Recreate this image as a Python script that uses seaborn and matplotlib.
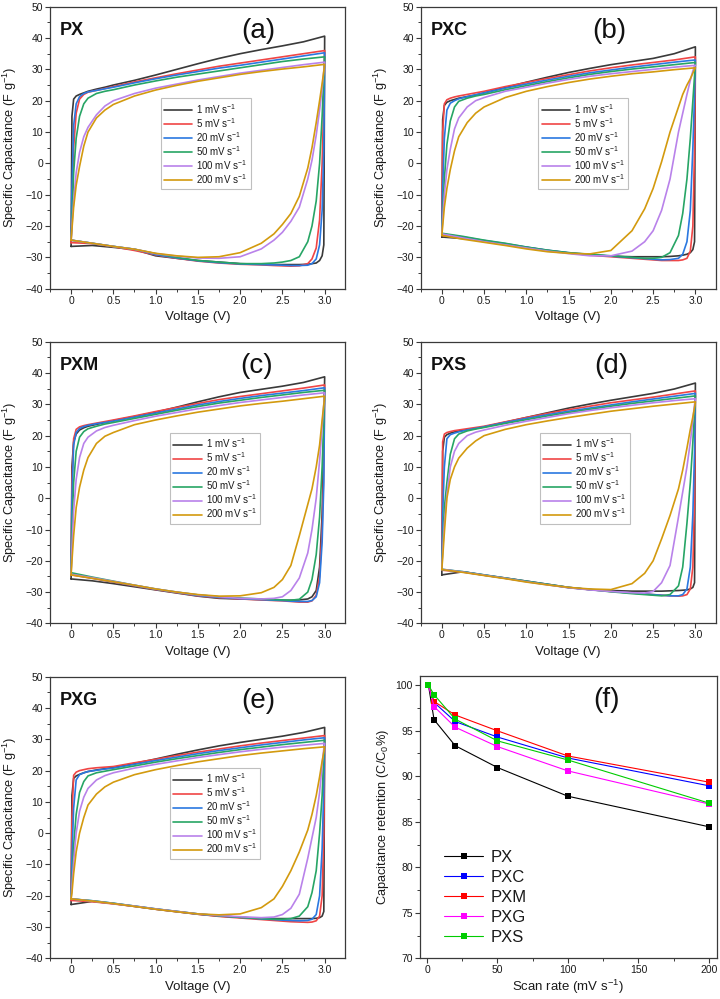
import seaborn as sns
import matplotlib.pyplot as plt
import matplotlib.ticker as mticker
import pandas as pd

# scan rates used in the CV panels
RATES = ["1", "5", "20", "50", "100", "200"]
CV_COLORS = ['#3a3a3a', '#f04545', '#2a78e0', '#27a565', '#b982ea', '#d39a0e']

# voltage grid: forward sweep (0 -> 3 V) and reverse sweep (3 -> 0 V)
V_UP = [0.0, 0.01, 0.03, 0.06, 0.1, 0.15, 0.2, 0.3, 0.4, 0.5, 0.75, 1.0, 1.25, 1.5, 1.75, 2.0, 2.25, 2.5, 2.75, 3.0]
V_DN = [3.0, 2.99, 2.97, 2.94, 2.9, 2.85, 2.8, 2.7, 2.6, 2.5, 2.4, 2.25, 2.0, 1.75, 1.5, 1.25, 1.0, 0.75, 0.5, 0.25, 0.0]

# specific capacitance (F/g), one row per scan rate
PX_UP = [
    [-26.5, 15.0, 20.5, 21.5, 22.0, 22.5, 23.0, 23.7, 24.3, 25.0, 26.5, 28.2, 30.0, 31.8, 33.5, 35.0, 36.3, 37.5, 38.8, 40.6],
    [-25.3, -15.0, 5.0, 16.0, 20.5, 22.0, 22.7, 23.3, 23.9, 24.5, 26.0, 27.3, 28.6, 29.8, 31.0, 32.0, 33.0, 34.0, 35.0, 36.0],
    [-24.5, -8.0, 12.0, 19.0, 21.3, 22.3, 22.8, 23.3, 23.8, 24.3, 25.7, 27.0, 28.2, 29.3, 30.4, 31.3, 32.3, 33.3, 34.3, 35.3],
    [-24.5, -18.0, -3.0, 8.0, 15.0, 19.0, 20.8, 22.3, 23.0, 23.5, 25.0, 26.3, 27.5, 28.5, 29.5, 30.5, 31.5, 32.5, 33.3, 34.0],
    [-24.5, -20.0, -12.0, -3.0, 3.5, 8.5, 11.5, 15.5, 18.3, 20.0, 22.3, 24.0, 25.3, 26.6, 27.7, 28.8, 29.7, 30.6, 31.5, 32.3],
    [-24.5, -21.0, -14.0, -7.0, -1.0, 5.5, 10.0, 14.5, 17.0, 18.8, 21.5, 23.4, 24.9, 26.2, 27.3, 28.4, 29.3, 30.1, 30.8, 31.6],
]
PX_DN = [
    [40.6, -26.0, -29.5, -31.0, -31.8, -32.0, -32.2, -32.3, -32.3, -32.3, -32.3, -32.2, -32.0, -31.5, -31.0, -30.3, -29.5, -27.5, -26.8, -26.2, -26.5],
    [36.0, 20.0, 0.0, -18.0, -27.0, -30.5, -32.0, -32.7, -32.8, -32.7, -32.6, -32.4, -32.2, -31.8, -31.2, -30.3, -29.2, -27.8, -26.6, -25.6, -25.3],
    [35.3, 5.0, -15.0, -26.0, -30.5, -32.0, -32.5, -32.6, -32.6, -32.5, -32.4, -32.3, -32.1, -31.7, -31.1, -30.2, -29.1, -27.4, -26.5, -25.5, -24.5],
    [34.0, 28.0, 15.0, 0.0, -12.0, -20.0, -25.0, -29.8, -31.0, -31.5, -31.8, -32.0, -32.0, -31.5, -31.0, -30.0, -28.8, -27.4, -26.5, -25.5, -24.5],
    [32.3, 29.5, 24.0, 17.0, 9.0, 1.0, -5.0, -14.0, -18.5, -22.0, -24.5, -27.3, -29.8, -30.3, -30.2, -29.6, -28.8, -27.4, -26.5, -25.5, -24.5],
    [31.6, 29.5, 25.5, 20.0, 13.0, 5.0, -1.5, -10.5, -16.0, -19.5, -22.5, -25.5, -28.5, -29.8, -30.0, -29.5, -28.7, -27.4, -26.5, -25.5, -24.5],
]
PXC_UP = [
    [-23.5, 14.0, 18.5, 19.5, 20.0, 20.4, 20.8, 21.3, 21.8, 22.5, 24.2, 25.9, 27.5, 29.0, 30.3, 31.5, 32.5, 33.5, 35.0, 37.2],
    [-23.0, 10.0, 19.0, 20.3, 20.8, 21.2, 21.5, 22.0, 22.5, 23.0, 24.5, 25.8, 27.1, 28.3, 29.5, 30.5, 31.4, 32.2, 33.0, 34.0],
    [-22.5, -8.0, 8.0, 17.0, 19.2, 20.0, 20.6, 21.3, 21.9, 22.5, 24.0, 25.3, 26.6, 27.8, 28.9, 29.8, 30.7, 31.5, 32.3, 33.0],
    [-22.3, -16.0, -5.0, 6.0, 13.5, 18.0, 19.8, 20.8, 21.5, 22.0, 23.5, 24.8, 26.1, 27.3, 28.4, 29.3, 30.1, 30.8, 31.5, 32.2],
    [-22.5, -18.0, -10.0, -2.0, 4.5, 11.0, 14.5, 18.0, 20.0, 21.0, 23.0, 24.3, 25.6, 26.8, 27.8, 28.6, 29.3, 30.0, 30.7, 31.3],
    [-23.0, -20.0, -14.0, -8.0, -2.0, 4.0, 8.5, 13.0, 16.0, 18.0, 21.0, 23.0, 24.5, 25.8, 26.9, 27.8, 28.6, 29.2, 29.9, 30.5],
]
PXC_DN = [
    [37.2, -25.0, -27.5, -28.5, -29.0, -29.3, -29.5, -29.7, -29.8, -29.8, -29.8, -29.8, -29.6, -29.2, -28.6, -27.8, -26.8, -25.8, -24.8, -24.0, -23.5],
    [34.0, 5.0, -20.0, -28.0, -30.3, -30.8, -31.0, -31.0, -31.0, -30.8, -30.6, -30.3, -29.8, -29.3, -28.6, -27.8, -26.8, -25.8, -24.8, -23.8, -23.0],
    [33.0, 22.0, 5.0, -15.0, -25.0, -29.0, -30.3, -30.7, -30.8, -30.6, -30.4, -30.1, -29.6, -29.1, -28.5, -27.7, -26.7, -25.6, -24.6, -23.5, -22.5],
    [32.2, 28.0, 20.0, 8.0, -5.0, -16.0, -23.0, -28.5, -30.0, -30.3, -30.3, -30.0, -29.5, -29.0, -28.5, -27.7, -26.7, -25.5, -24.5, -23.3, -22.3],
    [31.3, 31.0, 29.5, 26.5, 22.0, 16.0, 10.0, -5.0, -15.0, -21.5, -25.0, -28.0, -29.5, -29.5, -28.8, -28.0, -27.0, -26.0, -25.0, -23.8, -22.5],
    [30.5, 30.0, 28.8, 27.0, 25.0, 22.0, 18.0, 10.0, 0.5, -8.0, -14.5, -21.5, -27.8, -28.9, -28.7, -28.2, -27.3, -26.2, -25.2, -24.2, -23.0],
]
PXM_UP = [
    [-25.8, 10.0, 18.0, 20.5, 21.8, 22.5, 23.0, 23.6, 24.2, 24.8, 26.1, 27.5, 29.1, 30.8, 32.4, 33.8, 34.8, 35.8, 37.0, 38.8],
    [-24.5, 5.0, 19.0, 22.0, 22.8, 23.2, 23.5, 24.0, 24.5, 25.0, 26.3, 27.7, 29.0, 30.3, 31.5, 32.5, 33.4, 34.3, 35.2, 36.2],
    [-24.3, 0.0, 17.0, 21.0, 22.3, 22.9, 23.3, 23.8, 24.2, 24.6, 25.9, 27.2, 28.5, 29.8, 30.9, 31.9, 32.8, 33.6, 34.4, 35.3],
    [-23.8, -10.0, 5.0, 15.0, 19.5, 21.3, 22.2, 23.0, 23.7, 24.2, 25.5, 26.8, 28.1, 29.3, 30.4, 31.3, 32.2, 33.0, 33.8, 34.5],
    [-24.3, -16.0, -4.0, 6.0, 13.0, 17.5, 19.5, 21.5, 22.6, 23.3, 24.8, 26.2, 27.4, 28.6, 29.6, 30.6, 31.4, 32.2, 33.0, 33.7],
    [-24.5, -20.0, -12.0, -3.0, 3.5, 9.0, 13.0, 17.5, 19.8, 21.0, 23.5, 25.0, 26.3, 27.5, 28.5, 29.5, 30.3, 31.0, 31.8, 32.6],
]
PXM_DN = [
    [38.8, 20.0, -5.0, -22.0, -29.5, -31.5, -32.2, -32.5, -32.6, -32.6, -32.5, -32.4, -32.2, -32.0, -31.3, -30.3, -29.3, -28.3, -27.3, -26.4, -25.8],
    [36.2, 10.0, -10.0, -25.0, -31.0, -32.8, -33.2, -33.2, -33.0, -32.8, -32.7, -32.5, -32.2, -31.8, -31.2, -30.2, -29.2, -28.0, -26.8, -25.6, -24.5],
    [35.3, 5.0, -14.0, -27.0, -31.5, -32.7, -33.0, -33.0, -32.9, -32.7, -32.6, -32.4, -32.1, -31.7, -31.1, -30.1, -29.1, -27.9, -26.7, -25.5, -24.3],
    [34.5, 25.0, 10.0, -6.0, -18.0, -26.0, -30.0, -32.3, -32.6, -32.5, -32.4, -32.2, -31.9, -31.5, -30.9, -30.0, -29.0, -27.8, -26.5, -25.2, -23.8],
    [33.7, 30.0, 23.0, 12.0, 0.0, -10.0, -17.5, -25.5, -29.5, -31.5, -32.0, -32.2, -32.0, -31.5, -30.9, -30.0, -29.0, -27.8, -26.6, -25.4, -24.3],
    [32.6, 30.0, 25.0, 17.0, 10.0, 3.0, -2.0, -12.0, -21.5, -26.0, -28.5, -30.2, -31.2, -31.3, -30.8, -30.0, -29.0, -27.8, -26.7, -25.6, -24.5],
]
PXS_UP = [
    [-24.5, 15.0, 19.5, 20.3, 20.8, 21.2, 21.5, 21.9, 22.3, 22.8, 24.3, 25.8, 27.3, 28.8, 30.1, 31.3, 32.4, 33.5, 34.9, 36.8],
    [-23.0, 18.0, 20.5, 21.0, 21.3, 21.6, 21.8, 22.2, 22.6, 23.0, 24.4, 25.8, 27.1, 28.3, 29.4, 30.5, 31.4, 32.3, 33.3, 34.3],
    [-22.8, -5.0, 10.0, 19.0, 20.3, 20.8, 21.2, 21.8, 22.3, 22.8, 24.2, 25.5, 26.7, 27.8, 28.8, 29.8, 30.8, 31.7, 32.6, 33.5],
    [-22.7, -15.0, -3.0, 5.0, 14.0, 19.0, 20.5, 21.5, 22.1, 22.6, 23.9, 25.1, 26.3, 27.4, 28.4, 29.4, 30.3, 31.1, 31.9, 32.7],
    [-22.7, -17.0, -8.0, 1.0, 10.0, 15.0, 17.5, 20.0, 21.1, 21.8, 23.3, 24.6, 25.8, 27.0, 28.0, 28.9, 29.7, 30.5, 31.2, 31.8],
    [-22.8, -19.0, -11.0, 0.0, 6.0, 10.0, 12.8, 16.0, 18.3, 20.0, 22.0, 23.5, 24.7, 25.8, 26.8, 27.8, 28.6, 29.4, 30.1, 30.8],
]
PXS_DN = [
    [36.8, -27.0, -28.5, -29.0, -29.3, -29.4, -29.5, -29.6, -29.7, -29.7, -29.7, -29.7, -29.5, -29.2, -28.6, -27.6, -26.6, -25.6, -24.6, -23.5, -24.5],
    [34.3, 0.0, -22.0, -29.0, -30.8, -31.2, -31.3, -31.2, -31.0, -30.8, -30.6, -30.3, -29.8, -29.2, -28.5, -27.5, -26.5, -25.5, -24.6, -23.6, -23.0],
    [33.5, 15.0, -5.0, -22.0, -29.0, -30.8, -31.2, -31.2, -31.0, -30.8, -30.6, -30.3, -29.8, -29.2, -28.5, -27.5, -26.5, -25.5, -24.5, -23.5, -22.8],
    [32.7, 28.0, 18.0, 5.0, -8.0, -22.0, -28.0, -30.8, -31.2, -31.0, -30.8, -30.5, -29.9, -29.2, -28.5, -27.5, -26.5, -25.5, -24.5, -23.5, -22.7],
    [31.8, 30.0, 25.0, 18.0, 10.0, 2.0, -6.0, -21.5, -27.0, -29.8, -30.3, -30.2, -29.8, -29.3, -28.6, -27.7, -26.7, -25.6, -24.6, -23.6, -22.7],
    [30.8, 29.0, 26.0, 22.0, 16.0, 9.0, 3.0, -5.5, -13.0, -20.0, -24.0, -27.3, -29.2, -29.0, -28.5, -27.7, -26.8, -25.7, -24.7, -23.7, -22.8],
]
PXG_UP = [
    [-22.8, 12.0, 17.5, 18.3, 18.8, 19.3, 19.7, 20.2, 20.6, 21.0, 22.3, 23.7, 25.2, 26.6, 27.9, 29.0, 30.0, 31.0, 32.2, 33.8],
    [-21.5, 5.0, 18.5, 19.5, 20.0, 20.3, 20.6, 20.9, 21.1, 21.3, 22.5, 23.6, 24.8, 25.9, 26.9, 27.9, 28.8, 29.6, 30.4, 31.2],
    [-21.0, -8.0, 8.0, 17.0, 18.7, 19.3, 19.7, 20.1, 20.5, 20.8, 22.0, 23.2, 24.3, 25.4, 26.4, 27.3, 28.2, 29.0, 29.8, 30.5],
    [-21.0, -15.0, -4.0, 6.0, 13.0, 16.5, 18.3, 19.3, 19.8, 20.3, 21.5, 22.7, 23.8, 24.8, 25.8, 26.7, 27.5, 28.3, 29.0, 29.7],
    [-21.0, -17.0, -9.0, 0.0, 7.0, 11.5, 14.3, 17.0, 18.4, 19.3, 20.8, 22.0, 23.1, 24.2, 25.1, 26.0, 26.8, 27.5, 28.1, 28.7],
    [-21.0, -19.0, -13.0, -6.0, 0.0, 5.0, 9.0, 12.5, 14.8, 16.3, 18.7, 20.3, 21.6, 22.8, 23.8, 24.8, 25.6, 26.3, 27.0, 27.6],
]
PXG_DN = [
    [33.8, -25.0, -26.5, -27.0, -27.2, -27.3, -27.3, -27.3, -27.3, -27.3, -27.3, -27.2, -26.9, -26.5, -25.9, -25.1, -24.3, -23.4, -22.5, -21.8, -22.8],
    [31.2, 0.0, -20.0, -26.5, -28.0, -28.4, -28.5, -28.4, -28.3, -28.1, -27.9, -27.6, -27.1, -26.6, -25.9, -25.1, -24.3, -23.4, -22.6, -21.9, -21.5],
    [30.5, 15.0, -5.0, -20.0, -26.0, -27.5, -27.9, -28.0, -27.9, -27.8, -27.6, -27.4, -26.9, -26.4, -25.8, -25.0, -24.2, -23.3, -22.4, -21.6, -21.0],
    [29.7, 25.0, 12.0, 0.0, -12.0, -19.0, -23.5, -26.5, -27.3, -27.5, -27.5, -27.3, -26.9, -26.4, -25.8, -25.0, -24.2, -23.3, -22.4, -21.6, -21.0],
    [28.7, 27.0, 22.0, 13.0, 5.0, -1.5, -8.0, -19.5, -24.0, -26.0, -26.8, -27.0, -26.7, -26.3, -25.8, -25.0, -24.2, -23.3, -22.5, -21.7, -21.0],
    [27.6, 26.0, 23.0, 18.0, 12.0, 6.0, 1.0, -6.0, -12.0, -17.0, -21.0, -23.8, -25.8, -26.1, -25.8, -25.1, -24.3, -23.4, -22.5, -21.7, -21.0],
]

# rate capability panel
SCAN_RATE = [1, 5, 20, 50, 100, 200]
SAMPLES = ["PX", "PXC", "PXM", "PXG", "PXS"]
RET_PX = [100, 96.2, 93.35, 90.95, 87.8, 84.45]
RET_PXC = [100, 98.1, 96.0, 94.3, 92.0, 88.95]
RET_PXM = [100, 98.2, 96.72, 94.98, 92.22, 89.35]
RET_PXG = [100, 97.65, 95.38, 93.25, 90.58, 86.95]
RET_PXS = [100, 98.95, 96.26, 93.88, 91.78, 87.05]
RET_COLORS = ['#000000', '#0000ff', '#ff0000', '#ff00ff', '#00cc00']

sns.set_style('white')
plt.rcParams['font.family'] = ['Liberation Sans', 'DejaVu Sans']
plt.rcParams['mathtext.fontset'] = 'custom'
plt.rcParams['mathtext.rm'] = 'Liberation Sans'
plt.rcParams['mathtext.it'] = 'Liberation Sans'

TXT = '#1a1a1a'
EDGE = '#3a3a3a'


def cvFrame(up, dn):
    rows = {"V": [], "C": [], "rate": []}
    for r, u, d in zip(RATES, up, dn):
        lab = r + " mV s$^{-1}$"
        rows["V"] += V_UP + V_DN
        rows["C"] += u + d
        rows["rate"] += [lab] * (len(u) + len(d))
    return pd.DataFrame(rows)


def styleAx(ax):
    for spine in ax.spines.values():
        spine.set_color(EDGE)
        spine.set_linewidth(0.9)
    ax.tick_params(which='both', direction='out', colors=EDGE, labelcolor=TXT,
                   labelsize=7.5, left=True, bottom=True, top=False, right=False)
    ax.tick_params(which='major', length=3.5, width=0.8, pad=1.5)
    ax.tick_params(which='minor', length=2, width=0.7)


def cvPanel(ax, up, dn, name, letter, leg_x, tag_x):
    df = cvFrame(up, dn)
    labels = [r + " mV s$^{-1}$" for r in RATES]
    sns.lineplot(data=df, x="V", y="C", hue="rate", hue_order=labels,
                 palette=CV_COLORS, sort=False, estimator=None,
                 linewidth=1.2, legend=False, ax=ax)
    ax.set_xlim(-0.25, 3.24)
    ax.set_ylim(-40, 50)
    ax.xaxis.set_major_locator(mticker.MultipleLocator(0.5))
    ax.xaxis.set_minor_locator(mticker.MultipleLocator(0.25))
    ax.yaxis.set_major_locator(mticker.MultipleLocator(10))
    ax.yaxis.set_minor_locator(mticker.MultipleLocator(5))
    ax.xaxis.set_major_formatter(mticker.FuncFormatter(lambda v, p: '0' if v == 0 else '%.1f' % v))
    styleAx(ax)
    ax.set_xlabel('Voltage (V)', fontsize=9.5, color=TXT, labelpad=4)
    ax.set_ylabel('Specific Capacitance (F g$^{-1}$)', fontsize=9.2, color=TXT)
    ax.yaxis.set_label_coords(-0.105, 0.5)
    leg = ax.legend(ax.lines[:6], labels, loc='upper left', bbox_to_anchor=(leg_x, 0.675),
                    fontsize=7.0, frameon=True, fancybox=False, edgecolor='#b0b0b0',
                    handlelength=2.9, handletextpad=0.4, labelspacing=0.02,
                    borderpad=0.35, borderaxespad=0)
    leg.get_frame().set_linewidth(0.8)
    for t in leg.get_texts():
        t.set_color(TXT)
    ax.text(0.034, 0.915, name, transform=ax.transAxes, fontsize=13,
            fontweight='bold', color='#111111', va='center', ha='left')
    ax.text(tag_x, 0.915, letter, transform=ax.transAxes, fontsize=20,
            color='#111111', va='center', ha='center')


fig = plt.figure(figsize=(7.2, 9.99), dpi=100)
axA = fig.add_axes([0.0694, 0.711, 0.4097, 0.2823])
axB = fig.add_axes([0.5843, 0.711, 0.4097, 0.2823])
axC = fig.add_axes([0.0694, 0.376, 0.4097, 0.2819])
axD = fig.add_axes([0.5843, 0.376, 0.4097, 0.2819])
axE = fig.add_axes([0.0694, 0.0407, 0.4097, 0.2819])
axF = fig.add_axes([0.5833, 0.0407, 0.412, 0.2826])

cvPanel(axA, PX_UP, PX_DN, 'PX', '(a)', 0.376, 0.705)
cvPanel(axB, PXC_UP, PXC_DN, 'PXC', '(b)', 0.398, 0.64)
cvPanel(axC, PXM_UP, PXM_DN, 'PXM', '(c)', 0.407, 0.70)
cvPanel(axD, PXS_UP, PXS_DN, 'PXS', '(d)', 0.404, 0.647)
cvPanel(axE, PXG_UP, PXG_DN, 'PXG', '(e)', 0.407, 0.705)

# retention panel
ret = {"rate": [], "ret": [], "sample": []}
for s, vals in zip(SAMPLES, [RET_PX, RET_PXC, RET_PXM, RET_PXG, RET_PXS]):
    ret["rate"] += SCAN_RATE
    ret["ret"] += vals
    ret["sample"] += [s] * len(vals)
ret = pd.DataFrame(ret)
sns.lineplot(data=ret, x="rate", y="ret", hue="sample", hue_order=SAMPLES,
             palette=RET_COLORS, sort=False, estimator=None, linewidth=0.8,
             marker='s', markersize=4.8, markeredgewidth=0, legend=False, ax=axF)
axF.set_xlim(-5, 205.5)
axF.set_ylim(70, 101)
axF.xaxis.set_major_locator(mticker.MultipleLocator(50))
axF.xaxis.set_minor_locator(mticker.MultipleLocator(25))
axF.yaxis.set_major_locator(mticker.MultipleLocator(5))
axF.yaxis.set_minor_locator(mticker.MultipleLocator(2.5))
styleAx(axF)
axF.set_xlabel('Scan rate (mV s$^{-1}$)', fontsize=9.5, color=TXT, labelpad=2)
axF.set_ylabel('Capacitance retention (C/C$_0$%)', fontsize=9.2, color=TXT)
axF.yaxis.set_label_coords(-0.098, 0.5)
legF = axF.legend(axF.lines[:5], SAMPLES, loc='lower left', bbox_to_anchor=(0.06, 0.025),
                  fontsize=12, frameon=False, handlelength=2.3, handletextpad=0.5,
                  labelspacing=0.3, borderaxespad=0)
for t in legF.get_texts():
    t.set_color(TXT)
axF.text(0.63, 0.915, '(f)', transform=axF.transAxes, fontsize=20,
         color='#111111', va='center', ha='center')

fig.savefig('out.png', dpi=100)
